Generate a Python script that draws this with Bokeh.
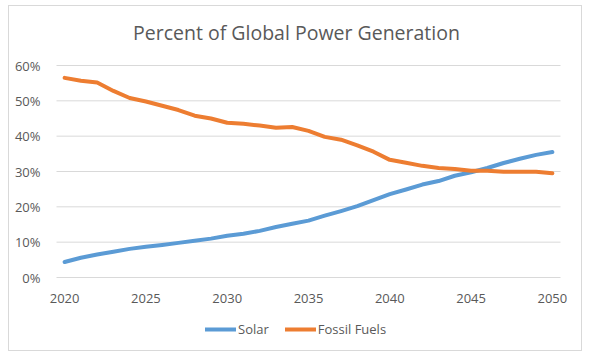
from bokeh.plotting import figure
from bokeh.models import (ColumnDataSource, FixedTicker, PrintfTickFormatter, Legend, LegendItem, Range1d)
from bokeh.embed import file_html
from bokeh.resources import INLINE

years = list(range(2020, 2051))
solar = [4.4, 5.6, 6.5, 7.3, 8.1, 8.7, 9.2, 9.8, 10.4, 11.0, 11.8, 12.4, 13.2, 14.3, 15.2, 16.1,
         17.5, 18.8, 20.2, 21.9, 23.6, 24.9, 26.3, 27.3, 28.8, 29.8, 31.0, 32.4, 33.6, 34.7, 35.5]
fossil = [56.5, 55.7, 55.2, 52.8, 50.8, 49.8, 48.6, 47.4, 45.8, 45.0, 43.8, 43.5, 43.0, 42.4, 42.6, 41.5,
          39.8, 39.0, 37.4, 35.6, 33.3, 32.5, 31.6, 31.0, 30.7, 30.2, 30.2, 29.9, 29.9, 29.9, 29.5]
x_ticks = [2020, 2025, 2030, 2035, 2040, 2045, 2050]
y_ticks = [0, 10, 20, 30, 40, 50, 60]
series_names = ["Solar", "Fossil Fuels"]
title_text = "Percent of Global Power Generation"

FONT = "Open Sans"
GREY = "#595959"

# category band edges (half a category beyond first/last year)
x_lo = years[0] - 0.5
x_hi = years[-1] + 0.5
y_lo, y_hi = y_ticks[0], y_ticks[-1]

# canvas layout (pixels): frame spans the chart box below the title
W, H, TOP = 574, 346, 45
PLOT_L, PLOT_R = 47, 551          # where the category band sits inside the frame
PLOT_T, PLOT_B = 59 - TOP, 271 - TOP  # 60% line and 0% line, relative to frame top
FH = H - TOP
xs = (x_hi - x_lo) / (PLOT_R - PLOT_L)
ys = (y_hi - y_lo) / (PLOT_B - PLOT_T)
x_range = Range1d(x_lo - PLOT_L * xs, x_hi + (W - PLOT_R) * xs)
y_range = Range1d(y_lo - (FH - PLOT_B) * ys, y_hi + PLOT_T * ys)

src = ColumnDataSource(dict(year=years, solar=solar, fossil=fossil))
grid_src = ColumnDataSource(dict(x0=[x_lo] * len(y_ticks), x1=[x_hi] * len(y_ticks), y=y_ticks))

p = figure(width=W, height=H, output_backend="svg", toolbar_location=None,
           x_range=x_range, y_range=y_range,
           min_border_left=0, min_border_right=0, min_border_top=TOP, min_border_bottom=0)
p.styles = {"border": "1px solid #d9d9d9", "margin-left": "8px", "margin-top": "5px"}
p.outline_line_color = None
p.xgrid.visible = False
p.ygrid.visible = False

p.title.text = title_text
p.title.align = "center"
p.title.standoff = 11
p.title.text_font = FONT
p.title.text_font_size = "19.5px"
p.title.text_font_style = "normal"
p.title.text_color = GREY

p.segment("x0", "y", "x1", "y", source=grid_src, line_color="#d9d9d9", line_width=1)

r1 = p.line("year", "solar", source=src, line_color="#5B9BD5", line_width=4, line_join="round", line_cap="round")
r2 = p.line("year", "fossil", source=src, line_color="#ED7D31", line_width=4, line_join="round", line_cap="round")

p.xaxis.fixed_location = y_lo
p.yaxis.fixed_location = x_lo
p.xaxis.ticker = FixedTicker(ticks=x_ticks)
p.yaxis.ticker = FixedTicker(ticks=y_ticks)
p.yaxis.formatter = PrintfTickFormatter(format="%d%%")
for ax in (p.xaxis[0], p.yaxis[0]):
    ax.axis_line_color = None
    ax.major_tick_line_color = None
    ax.minor_tick_line_color = None
    ax.major_label_text_font = FONT
    ax.major_label_text_font_size = "13px"
    ax.major_label_text_color = GREY
p.xaxis.major_label_standoff = 10
p.yaxis.major_label_standoff = 10

legend = Legend(items=[LegendItem(label=series_names[0], renderers=[r1]),
                       LegendItem(label=series_names[1], renderers=[r2])],
                orientation="horizontal", location=(196, 14),
                label_text_font=FONT, label_text_font_size="13px", label_text_color=GREY,
                glyph_width=31, glyph_height=10, label_standoff=2, spacing=16,
                border_line_color=None, background_fill_alpha=0, padding=2, margin=0)
p.add_layout(legend, "center")

open("out.html", "w").write(file_html(p, INLINE))
